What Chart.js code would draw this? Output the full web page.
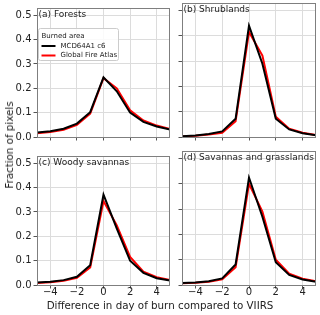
<!DOCTYPE html>
<html><head><meta charset="utf-8">
<script src="https://cdn.jsdelivr.net/npm/chart.js@4/dist/chart.umd.min.js"></script>
<style>
body{margin:0;background:#fff;}
#wrap{position:relative;width:320px;height:315px;overflow:hidden;background:#fff;font-family:"DejaVu Sans",sans-serif;}
canvas{position:absolute;}
.t{position:absolute;color:#222;font-size:10.3px;white-space:nowrap;}
</style></head><body>
<div id="wrap">
<canvas id="c0" width="172" height="147" style="left:0;top:0"></canvas>
<canvas id="c1" width="144" height="147" style="left:176px;top:0"></canvas>
<canvas id="c2" width="172" height="167" style="left:0;top:148px"></canvas>
<canvas id="c3" width="144" height="167" style="left:176px;top:148px"></canvas>
<div class="t" id="xt" style="left:160px;top:305px;transform:translate(-50%,-50%)">Difference in day of burn compared to VIIRS</div>
<div class="t" id="yt" style="left:9px;top:145px;transform:translate(-50%,-50%) rotate(-90deg)">Fraction of pixels</div>
</div>
<script>
const xValues = [-5,-4,-3,-2,-1,0,1,2,3,4,5];
const xTicks = [-4,-2,0,2,4];
const yTicks = [0,0.1,0.2,0.3,0.4,0.5];
const seriesNames = ["MCD64A1 c6","Global Fire Atlas"];
const panelTitles = ["(a) Forests","(b) Shrublands","(c) Woody savannas","(d) Savannas and grasslands"];
const forestsMCD  = [0.018,0.024,0.034,0.055,0.102,0.245,0.188,0.100,0.062,0.043,0.031];
const forestsGFA  = [0.015,0.021,0.030,0.050,0.096,0.242,0.200,0.110,0.068,0.047,0.033];
const shrubMCD    = [0.003,0.006,0.012,0.022,0.072,0.440,0.290,0.072,0.030,0.015,0.007];
const shrubGFA    = [0.002,0.005,0.010,0.017,0.062,0.415,0.322,0.080,0.033,0.017,0.008];
const woodyMCD    = [0.010,0.013,0.020,0.034,0.081,0.371,0.232,0.100,0.050,0.028,0.018];
const woodyGFA    = [0.008,0.011,0.017,0.029,0.072,0.345,0.245,0.115,0.055,0.032,0.020];
const savMCD      = [0.008,0.010,0.015,0.026,0.081,0.425,0.270,0.090,0.040,0.022,0.013];
const savGFA      = [0.007,0.009,0.013,0.022,0.070,0.400,0.290,0.100,0.045,0.025,0.015];
const panelData = [[forestsMCD,forestsGFA],[shrubMCD,shrubGFA],[woodyMCD,woodyGFA],[savMCD,savGFA]];
const seriesColors = ["#000000","#ff0000"];

const FONT = "DejaVu Sans";
const fmt = v => (v<0 ? "\u2212"+Math.abs(v) : String(v));

const deco = {
  id:'deco',
  afterDraw(chart, args, o){
    const ctx = chart.ctx, a = chart.chartArea;
    ctx.save();
    ctx.strokeStyle = '#7f7f7f'; ctx.lineWidth = 1;
    ctx.strokeRect(Math.round(a.left)+0.5, Math.round(a.top)+0.5, Math.round(a.width)-1, Math.round(a.height));
    ctx.fillStyle = '#222';
    ctx.font = '9px "'+FONT+'"';
    ctx.textBaseline = 'middle'; ctx.textAlign = 'left';
    ctx.fillText(o.title, a.left+1.5, a.top+7);
    if (o.legend){
      const bx = a.left+1.5, by = a.top+20.5, bw = 80, bh = 32;
      ctx.beginPath();
      ctx.roundRect(bx, by, bw, bh, 2);
      ctx.fillStyle = 'rgba(255,255,255,0.85)'; ctx.fill();
      ctx.strokeStyle = '#cccccc'; ctx.lineWidth = 1; ctx.stroke();
      ctx.fillStyle = '#222';
      ctx.font = '7px "'+FONT+'"';
      ctx.fillText('Burned area', bx+3, by+7.5);
      chart.data.datasets.forEach((ds,i)=>{
        const yy = by+17.5+i*9.5;
        ctx.strokeStyle = ds.borderColor; ctx.lineWidth = 2;
        ctx.beginPath(); ctx.moveTo(bx+3, yy); ctx.lineTo(bx+17, yy); ctx.stroke();
        ctx.fillStyle = '#222';
        ctx.fillText(ds.label, bx+22, yy);
      });
    }
    ctx.restore();
  }
};

function makeChart(idx){
  const left = idx%2===0, bottom = idx>=2;
  const ds = panelData[idx].map((arr,i)=>({
    label: seriesNames[i],
    data: xValues.map((x,j)=>({x:x, y:arr[j]})),
    borderColor: seriesColors[i],
    borderWidth: 2,
    pointRadius: 0,
    tension: 0,
    fill: false
  }));
  new Chart(document.getElementById('c'+idx), {
    type:'line',
    data:{datasets:ds},
    plugins:[deco],
    options:{
      responsive:false, animation:false, devicePixelRatio:1,
      layout:{padding:{left:0, right:left?2:4, top:3, bottom:0}},
      plugins:{legend:{display:false}, tooltip:{enabled:false},
        deco:{title:panelTitles[idx], legend: idx===0}},
      scales:{
        x:{type:'linear', min:-5, max:5,
          afterBuildTicks: s=>{ s.ticks = xTicks.map(v=>({value:v})); },
          afterFit: s=>{ s.height = bottom ? 30 : 10; },
          ticks:{display:bottom, color:'#222', font:{family:FONT,size:10,lineHeight:1}, padding:-1, maxRotation:0, autoSkip:false,
            callback: v=>fmt(v)},
          grid:{color:'#dcdcdc', lineWidth:1, tickColor:'#555', tickLength:3.5, drawTicks:true},
          border:{display:false}
        },
        y:{type:'linear', min:0, max:0.53,
          afterBuildTicks: s=>{ s.ticks = yTicks.map(v=>({value:v})); },
          afterFit: s=>{ s.width = left ? 37 : 6; },
          ticks:{display:left, color:'#222', font:{family:FONT,size:10}, padding:2, autoSkip:false,
            callback: v=>v.toFixed(1)},
          grid:{color:'#dcdcdc', lineWidth:1, tickColor:'#555', tickLength:3.5, drawTicks:true},
          border:{display:false}
        }
      }
    }
  });
}
[0,1,2,3].forEach(makeChart);
</script>
</body></html>
